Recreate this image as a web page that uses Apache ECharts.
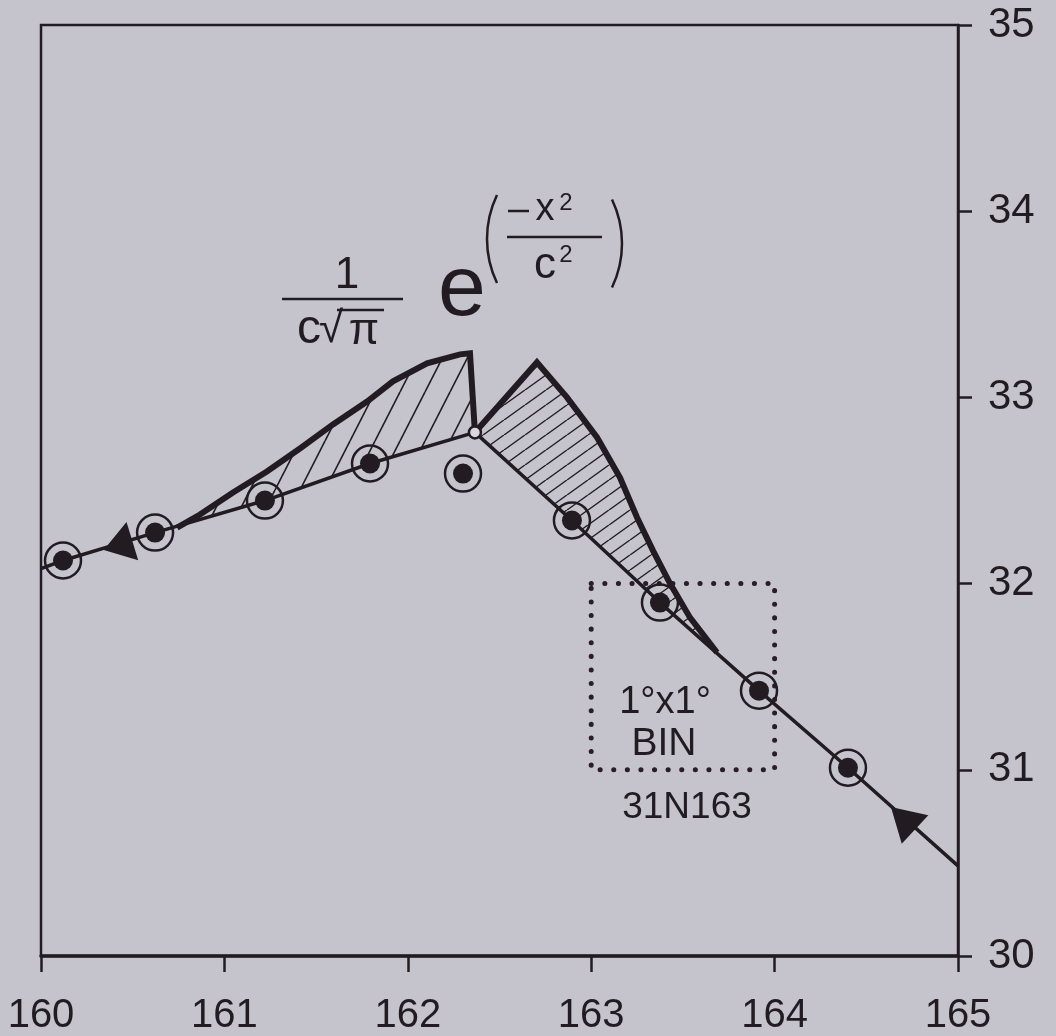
<!DOCTYPE html>
<html><head><meta charset="utf-8">
<script src="https://cdn.jsdelivr.net/npm/echarts@6/dist/echarts.min.js"></script>
<style>html,body{margin:0;padding:0;background:#c5c4cc;}#c{width:1056px;height:1036px;}</style>
</head><body><div id="c"></div>
<script>
// ---- data ----
const xTicks = [160, 161, 162, 163, 164, 165];
const yTicks = [30, 31, 32, 33, 34, 35];
const trackLon = [160.0, 160.12, 160.622, 161.221, 161.794, 162.366, 162.895, 163.375, 163.915, 164.40, 165.0];
const trackLat = [32.08, 32.124, 32.274, 32.446, 32.645, 32.812, 32.339, 31.898, 31.425, 31.011, 30.484];
const fixLon = [160.12, 160.622, 161.221, 161.794, 162.301, 162.895, 163.375, 163.915, 164.40];
const fixLat = [32.124, 32.274, 32.446, 32.645, 32.591, 32.339, 31.898, 31.425, 31.011];
const junctionLon = [162.366];
const junctionLat = [32.812];
const arrowLon = [160.42, 164.70];
const arrowLat = [32.204, 30.74];
const westLobeLon = [160.742, 160.867, 161.047, 161.232, 161.412, 161.592, 161.778, 161.919, 162.105, 162.285, 162.339, 162.366];
const westLobeLat = [32.301, 32.371, 32.489, 32.602, 32.726, 32.855, 32.978, 33.086, 33.183, 33.231, 33.237, 32.812];
const eastLobeLon = [162.366, 162.704, 162.868, 163.032, 163.157, 163.25, 163.337, 163.43, 163.539, 163.686];
const eastLobeLat = [32.812, 33.188, 33.0, 32.785, 32.570, 32.355, 32.177, 32.0, 31.817, 31.63];
const binLon = [163, 164, 164, 163, 163];
const binLat = [32, 32, 31, 31, 32];
const binLabels = ['1°x1°', 'BIN', '31N163'];

// ---- style ----
const ink = '#221c22';
const bg = '#c5c4cc';
const font = 'Liberation Sans';
const arrowRotate = [107, 47];
const arrowSize = [[40, 30], [39, 33]];

const zip = (a, b) => a.map((v, i) => [v, b[i]]);
const track = zip(trackLon, trackLat);
const west = zip(westLobeLon, westLobeLat);
const east = zip(eastLobeLon, eastLobeLat);
function between(lobe) {
  const lo = lobe[0][0], hi = lobe[lobe.length - 1][0];
  return track.filter(p => p[0] > lo && p[0] < hi).reverse();
}
const polys = [west.concat(between(west)), east.concat(between(east))];

function hatch(w, h, lw) {
  const c = document.createElement('canvas');
  c.width = w; c.height = h;
  const g = c.getContext('2d');
  g.strokeStyle = ink; g.lineWidth = lw;
  for (let k = -1; k <= 1; k++) { g.beginPath(); g.moveTo(k * w, h); g.lineTo((k + 1) * w, 0); g.stroke(); }
  return c;
}
const patterns = [hatch(25, 49, 1.6), hatch(21, 15, 1.4)];

const chart = echarts.init(document.getElementById('c'), null, {renderer: 'canvas'});
const txt = (text, x, y, size) => ({type: 'text', z: 50, style: {text, x, y, fill: ink, font: size + 'px "' + font + '"', textAlign: 'center', textVerticalAlign: 'middle'}});
const ln = (x1, y1, x2, y2, w) => ({type: 'line', z: 50, shape: {x1, y1, x2, y2}, style: {stroke: ink, lineWidth: w || 2.5}});

chart.setOption({
  animation: false,
  backgroundColor: bg,
  grid: {left: 41, right: 98, top: 25, bottom: 80, show: true, borderColor: ink, borderWidth: 2.5, backgroundColor: 'transparent'},
  xAxis: {
    type: 'value', min: xTicks[0], max: xTicks[xTicks.length - 1], interval: xTicks[1] - xTicks[0],
    axisLine: {show: true, onZero: false, lineStyle: {color: ink, width: 3.5}},
    axisTick: {show: true, length: 16, lineStyle: {color: ink, width: 2.5}},
    axisLabel: {color: ink, fontSize: 40, fontFamily: font, margin: 40},
    splitLine: {show: false}
  },
  yAxis: {
    type: 'value', position: 'right', min: yTicks[0], max: yTicks[yTicks.length - 1], interval: yTicks[1] - yTicks[0],
    axisLine: {show: true, onZero: false, lineStyle: {color: ink, width: 2.5}},
    axisTick: {show: true, length: 14, lineStyle: {color: ink, width: 2.5}},
    axisLabel: {color: ink, fontSize: 42, fontFamily: font, margin: 30},
    splitLine: {show: false}
  },
  graphic: [
    txt('1', 347, 276, 44), ln(282, 299, 403, 299),
    txt('c', 309, 330, 48), txt('√', 331, 330, 44), txt('π', 364, 332, 44), ln(337, 310, 384, 310, 2.5),
    txt('e', 462, 291, 86),
    {type: 'arc', z: 50, shape: {cx: 588.8, cy: 239, r: 101.8, startAngle: Math.PI - 0.447, endAngle: Math.PI + 0.447}, style: {stroke: ink, lineWidth: 2.5, fill: null}},
    {type: 'arc', z: 50, shape: {cx: 520.2, cy: 243.5, r: 101.8, startAngle: -0.447, endAngle: 0.447}, style: {stroke: ink, lineWidth: 2.5, fill: null}},
    ln(508, 211, 529, 211), txt('x', 545, 210, 38), txt('2', 566, 203, 24),
    ln(507, 237, 602, 237),
    txt('c', 545, 266, 44), txt('2', 566, 255, 24),
    txt(binLabels[0], 665, 703, 38), txt(binLabels[1], 664, 744, 39), txt(binLabels[2], 687, 808, 37)
  ],
  series: [
    {
      type: 'custom', z: 1, silent: true,
      data: polys.map((p, i) => ({value: [p[0][0], p[0][1], i]})),
      renderItem: (params, api) => {
        const i = params.dataIndex;
        return {type: 'polygon', shape: {points: polys[i].map(p => api.coord(p))}, style: {fill: {image: patterns[i], repeat: 'repeat'}, stroke: null}};
      }
    },
    {type: 'line', z: 2, data: binLon.map((v, i) => [v, binLat[i]]), symbol: 'none', silent: true,
     lineStyle: {color: '#2b1d26', width: 5, type: [0.1, 13.5], cap: 'round'}},
    {type: 'line', z: 3, data: west, symbol: 'none', silent: true, lineStyle: {color: ink, width: 6, join: 'miter'}},
    {type: 'line', z: 3, data: east, symbol: 'none', silent: true, lineStyle: {color: ink, width: 6, join: 'miter'}},
    {type: 'line', z: 4, data: track, symbol: 'none', silent: true, lineStyle: {color: ink, width: 3.5, join: 'round'}},
    {type: 'scatter', z: 5, data: zip(fixLon, fixLat), symbol: 'circle', symbolSize: 36, silent: true,
     itemStyle: {color: 'rgba(0,0,0,0)', borderColor: ink, borderWidth: 2.5, opacity: 1}},
    {type: 'scatter', z: 6, data: zip(fixLon, fixLat), symbol: 'circle', symbolSize: 20, silent: true,
     itemStyle: {color: ink, opacity: 1}},
    {type: 'scatter', z: 6, data: zip(junctionLon, junctionLat), symbol: 'circle', symbolSize: 12, silent: true,
     itemStyle: {color: '#d9d8de', borderColor: ink, borderWidth: 2.5, opacity: 1}},
    {type: 'scatter', z: 6, silent: true, symbol: 'triangle',
     data: arrowLon.map((v, i) => ({value: [v, arrowLat[i]], symbolRotate: arrowRotate[i], symbolSize: arrowSize[i]})),
     itemStyle: {color: ink, opacity: 1}}
  ]
});
</script></body></html>
